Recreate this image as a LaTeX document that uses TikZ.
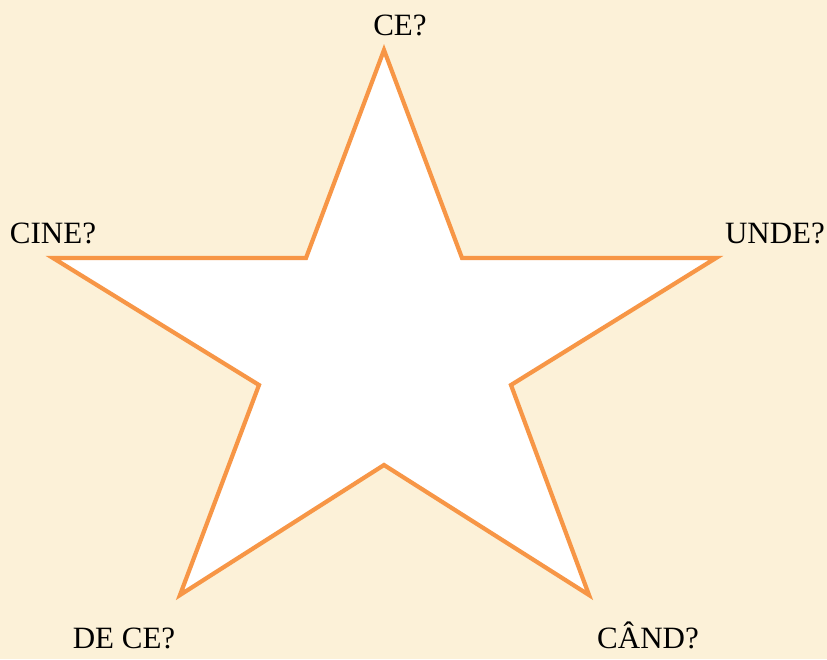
\documentclass[tikz,border=0pt]{standalone}
\usepackage{fontspec}
\setmainfont{Liberation Serif}
\usetikzlibrary{positioning}
\definecolor{starorange}{RGB}{247,150,70}
\definecolor{parchment}{RGB}{252,241,216}
\tikzset{
  % the five-pointed star outline
  starln/.style={line width=4.2pt, draw=starorange, fill=white, line join=miter},
  % question words at the tips
  qword/.style={font=\fontsize{31}{37}\selectfont, text=black, anchor=base, inner sep=0pt},
}

\begin{document}
\begin{tikzpicture}[x=1pt, y=-1pt]
    % background sheet
    \fill[parchment] (0,0) rectangle (827,659);
    \useasboundingbox (0,0) rectangle (827,659);
    % star tips and inner corners
    \coordinate (tipT) at (384,50);
    \coordinate (inTR) at (462,258);
    \coordinate (tipR) at (716,258);
    \coordinate (inBR) at (511,385);
    \coordinate (tipBR) at (589,595);
    \coordinate (inB) at (384,465);
    \coordinate (tipBL) at (180,595);
    \coordinate (inBL) at (259,385);
    \coordinate (tipL) at (53,258);
    \coordinate (inTL) at (306,258);
    \draw[starln] (tipT) -- (inTR) -- (tipR) -- (inBR) -- (tipBR) -- (inB)
      -- (tipBL) -- (inBL) -- (tipL) -- (inTL) -- cycle;
    % labels
    \node[qword] (ce) at (400,35) {CE?};
    \node[qword] (cine) at (53,243) {CINE?};
    \node[qword] (unde) at (775,243) {UNDE?};
    \node[qword] (dece) at (124,648) {DE CE?};
    \node[qword] (cand) at (648,648) {CÂND?};
\end{tikzpicture}
\end{document}
